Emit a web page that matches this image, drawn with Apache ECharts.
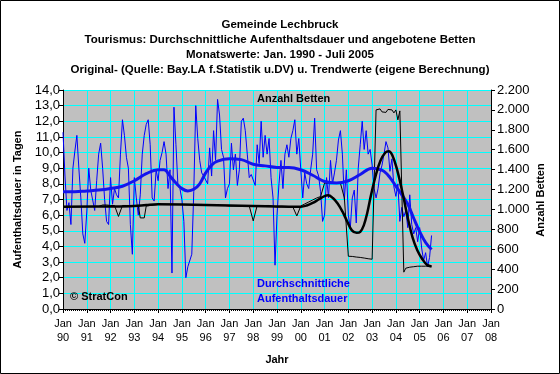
<!DOCTYPE html>
<html><head><meta charset="utf-8">
<script src="https://cdn.jsdelivr.net/npm/echarts@6/dist/echarts.min.js"></script>
<style>html,body{margin:0;padding:0;background:#fff}#c{width:560px;height:374px}</style>
</head><body><div id="c"></div>
<script>
// ---- Data ----
const titleLines = ["Gemeinde Lechbruck","Tourismus: Durchschnittliche Aufenthaltsdauer und angebotene Betten","Monatswerte: Jan. 1990 - Juli 2005","Original- (Quelle: Bay.LA f.Statistik u.DV) u. Trendwerte (eigene Berechnung)"];
const startYear = 1990;
// Average stay (days), monthly, Jan 1990 - Jul 2005
const stay1990 = [11.3, 8.5, 6.3, 6.8, 5.4, 9.0, 10.1, 11.1, 9.0, 7.1, 4.8, 4.2];
const stay1991 = [6.2, 9.0, 7.6, 7.7, 6.3, 8.2, 9.9, 10.6, 9.0, 7.0, 5.6, 5.4];
const stay1992 = [8.4, 6.7, 7.7, 7.3, 7.1, 9.9, 12.1, 11.1, 9.7, 9.0, 5.4, 3.5];
const stay1993 = [8.4, 7.1, 6.0, 7.3, 9.9, 11.1, 11.8, 12.1, 10.5, 7.1, 6.9, 8.9];
const stay1994 = [8.2, 9.5, 10.0, 10.7, 9.9, 7.7, 8.9, 2.3, 12.9, 10.5, 7.9, 7.7];
const stay1995 = [7.0, 5.6, 2.0, 2.7, 2.8, 3.5, 7.5, 13.0, 10.9, 9.5, 8.7, 8.5];
const stay1996 = [8.6, 8.0, 10.3, 8.5, 11.4, 9.5, 13.4, 12.4, 10.2, 9.7, 7.1, 7.7];
const stay1997 = [8.0, 10.6, 8.9, 9.9, 7.9, 8.9, 12.0, 12.2, 11.4, 9.9, 8.4, 8.6];
const stay1998 = [8.5, 7.9, 10.5, 9.3, 12.0, 9.7, 11.1, 9.9, 10.9, 8.4, 7.1, 2.8];
const stay1999 = [6.0, 8.0, 9.5, 7.7, 9.9, 10.5, 9.7, 10.9, 11.4, 12.1, 9.9, 10.9];
const stay2000 = [8.9, 7.1, 8.7, 8.0, 7.7, 8.9, 9.9, 12.2, 8.9, 8.5, 7.5, 5.6];
const stay2001 = [6.0, 8.4, 7.1, 9.5, 8.0, 8.7, 9.5, 10.8, 11.4, 9.9, 7.0, 8.9];
const stay2002 = [6.0, 5.2, 7.1, 7.6, 5.5, 9.0, 10.5, 12.0, 10.2, 11.4, 9.9, 10.2];
const stay2003 = [9.2, 7.7, 7.1, 7.7, 8.7, 9.2, 9.9, 10.7, 10.3, 8.8, 9.6, 7.8];
const stay2004 = [7.2, 8.0, 5.6, 6.5, 5.9, 6.3, 5.2, 7.3, 5.4, 4.8, 5.2, 4.3];
const stay2005 = [5.2, 3.9, 3.1, 3.6, 2.7, 3.3, 4.7];
// Beds offered, monthly
const beds1990 = [1030,1030,1030,1030,1030,1030,1030,1030,1030,1030,1030,1030];
const beds1991 = [1030,1030,1030,1030,1030,1030,1030,1030,1045,1045,1045,1045];
const beds1992 = [1040,1040,1040,1040,930,935,1040,1040,1040,1040,1040,1040];
const beds1993 = [1040,1040,1040,915,915,915,1035,1035,1040,1040,1045,1045];
const beds1994 = [1050,1050,1050,1050,1050,1050,1050,1050,1050,1050,1050,1050];
const beds1995 = [1050,1050,1050,1050,1050,1050,1050,1050,1050,1050,1050,1050];
const beds1996 = [1040,1040,1040,1040,1040,1040,1040,1040,1040,1040,1040,1035];
const beds1997 = [1035,1035,1035,1035,1035,1035,1035,1035,1035,1035,1035,1035];
const beds1998 = [885,890,1040,1045,1040,1045,1040,1045,1040,1030,1030,1025];
const beds1999 = [1025,1025,1025,1025,1025,1025,1025,1025,1025,1025,935,935];
const beds2000 = [1035,1045,1055,1065,1075,1085,1095,1105,1115,1125,1130,1135];
const beds2001 = [1265,1265,1265,1265,1265,1265,1265,1265,1265,1265,1115,1115];
const beds2002 = [530,530,528,525,522,520,518,515,512,510,505,500];
const beds2003 = [500,500,2000,1990,2010,1980,2000,1975,2005,1985,2000,1970];
const beds2004 = [2000,1900,1990,1980,370,410,420,420,425,425,428,430];
const beds2005 = [430,430,430,430,430,430,430];
// Trend values (read at points along the smooth trend curves)
const trendStayX = [1990.0,1990.5,1991.0,1991.5,1992.0,1992.5,1993.0,1993.5,1994.0,1994.25,1994.5,1994.75,1995.0,1995.25,1995.5,1995.75,1996.0,1996.25,1996.5,1997.0,1997.5,1998.0,1998.5,1999.0,1999.5,2000.0,2000.5,2001.0,2001.5,2002.0,2002.5,2003.0,2003.25,2003.5,2003.75,2004.0,2004.25,2004.5,2004.75,2005.0,2005.25,2005.5];
const trendStayY = [7.5,7.5,7.55,7.6,7.7,7.85,8.2,8.65,8.9,8.9,8.5,8.05,7.7,7.55,7.65,8.0,8.7,9.2,9.45,9.6,9.55,9.25,9.15,9.05,9.05,8.9,8.55,8.15,8.05,8.2,8.6,9.0,8.95,8.8,8.4,7.85,7.3,6.7,5.8,4.95,4.25,3.8];
const trendBedsX = [1990.0,1992.0,1993.0,1993.5,1994.0,1995.0,1996.0,1997.0,1998.0,1999.0,1999.5,2000.0,2000.25,2000.5,2000.75,2001.0,2001.15,2001.35,2001.55,2001.75,2001.95,2002.15,2002.35,2002.5,2002.65,2002.8,2002.95,2003.15,2003.35,2003.55,2003.7,2003.85,2004.05,2004.3,2004.5,2004.7,2004.9,2005.1,2005.3,2005.5];
const trendBedsY = [1028,1030,1035,1045,1052,1050,1045,1040,1035,1030,1027,1028,1040,1065,1100,1135,1143,1115,1060,980,880,790,765,775,840,970,1140,1340,1490,1570,1585,1545,1400,1145,915,720,590,505,445,428];
const leftTicks = {min:0, max:14, interval:1};
const rightTicks = {min:0, max:2200, interval:200};
const xTicks = {min:1990, max:2008, interval:1};

const stayYears = [stay1990,stay1991,stay1992,stay1993,stay1994,stay1995,stay1996,stay1997,stay1998,stay1999,stay2000,stay2001,stay2002,stay2003,stay2004,stay2005];
const bedsYears = [beds1990,beds1991,beds1992,beds1993,beds1994,beds1995,beds1996,beds1997,beds1998,beds1999,beds2000,beds2001,beds2002,beds2003,beds2004,beds2005];
function monthly(arrs){const out=[];arrs.forEach((a,i)=>a.forEach((v,m)=>out.push([startYear+i+m/12,v])));return out;}
const zip=(xs,ys)=>xs.map((x,i)=>[x,ys[i]]);

const FONT = "'Liberation Sans', Arial, sans-serif";
const chart = echarts.init(document.getElementById('c'), null, {renderer:'canvas'});
chart.setOption({
  animation:false,
  backgroundColor:'#ffffff',
  textStyle:{fontFamily:FONT},
  title:{text:titleLines.join('\n'), left:'center', top:12,
    textStyle:{fontFamily:FONT, fontSize:11.5, fontWeight:'bold', color:'#000', lineHeight:15}},
  grid:{left:63, right:69, top:90, bottom:65, show:true, backgroundColor:'#C0C0C0', borderWidth:0},
  xAxis:{type:'value', min:xTicks.min, max:xTicks.max, interval:xTicks.interval,
    name:'Jahr', nameLocation:'middle', nameGap:45,
    nameTextStyle:{fontFamily:FONT, fontSize:11, fontWeight:'bold', color:'#000'},
    axisLine:{lineStyle:{color:'#000', width:1}},
    axisTick:{show:true, length:4, lineStyle:{color:'#000'}},
    minorTick:{show:true, splitNumber:12, length:2, lineStyle:{color:'#000'}},
    axisLabel:{color:'#000', fontSize:11, lineHeight:14, margin:8, fontFamily:FONT,
      formatter:v=>'Jan\n'+String(Math.round(v)).slice(2)},
    splitLine:{show:true, lineStyle:{color:'#00FFFF', width:1}}},
  yAxis:[
    {type:'value', min:leftTicks.min, max:leftTicks.max, interval:leftTicks.interval, position:'left',
     name:'Aufenthaltsdauer in Tagen', nameLocation:'middle', nameGap:35, nameRotate:90,
     nameTextStyle:{fontFamily:FONT, fontSize:11, fontWeight:'bold', color:'#000'},
     axisLine:{show:true, lineStyle:{color:'#000'}},
     axisTick:{show:true, length:4, lineStyle:{color:'#000'}},
     axisLabel:{color:'#000', fontSize:13, margin:3, fontFamily:FONT, formatter:v=>v.toFixed(1).replace('.',',')},
     splitLine:{show:true, lineStyle:{color:'#00FFFF', width:1}}},
    {type:'value', min:rightTicks.min, max:rightTicks.max, interval:rightTicks.interval, position:'right',
     axisLine:{show:true, lineStyle:{color:'#000'}},
     axisTick:{show:true, length:4, lineStyle:{color:'#000'}},
     axisLabel:{color:'#000', fontSize:13, margin:6, fontFamily:FONT,
       formatter:v=>v>=1000?Math.floor(v/1000)+'.'+String(v%1000).padStart(3,'0'):String(v)},
     splitLine:{show:false}}
  ],
  series:[
    {type:'line', name:'Aufenthaltsdauer', yAxisIndex:0, data:monthly(stayYears), showSymbol:false,
     lineStyle:{color:'#0000FF', width:1}, z:2},
    {type:'line', name:'Betten', yAxisIndex:1, data:monthly(bedsYears), showSymbol:false,
     lineStyle:{color:'#000000', width:1}, z:3},
    {type:'line', name:'Trend Aufenthaltsdauer', yAxisIndex:0, data:zip(trendStayX,trendStayY), showSymbol:false, smooth:0.4,
     lineStyle:{color:'#1414EE', width:3}, z:4},
    {type:'line', name:'Trend Betten', yAxisIndex:1, data:zip(trendBedsX,trendBedsY), showSymbol:false, smooth:0.4,
     lineStyle:{color:'#000000', width:2.5}, z:5}
  ],
  graphic:[
    {type:'rect', shape:{x:0.5,y:0.5,width:559,height:373}, style:{fill:null, stroke:'#000', lineWidth:1}, z:100},
    {type:'text', x:541, y:200, rotation:Math.PI/2,
     style:{text:'Anzahl Betten', fill:'#000', font:"bold 11px "+FONT, align:'center', verticalAlign:'middle'}, z:50},
    {type:'text', left:257, top:93, style:{text:'Anzahl Betten', fill:'#000', font:"bold 11px "+FONT}, z:50},
    {type:'text', left:257, top:276, style:{text:'Durchschnittliche\nAufenthaltsdauer', fill:'#0000FF', font:"bold 11px "+FONT, lineHeight:15}, z:50},
    {type:'text', left:70, top:291, style:{text:'© StratCon', fill:'#000', font:"bold 11px "+FONT}, z:50}
  ]
});
</script></body></html>
